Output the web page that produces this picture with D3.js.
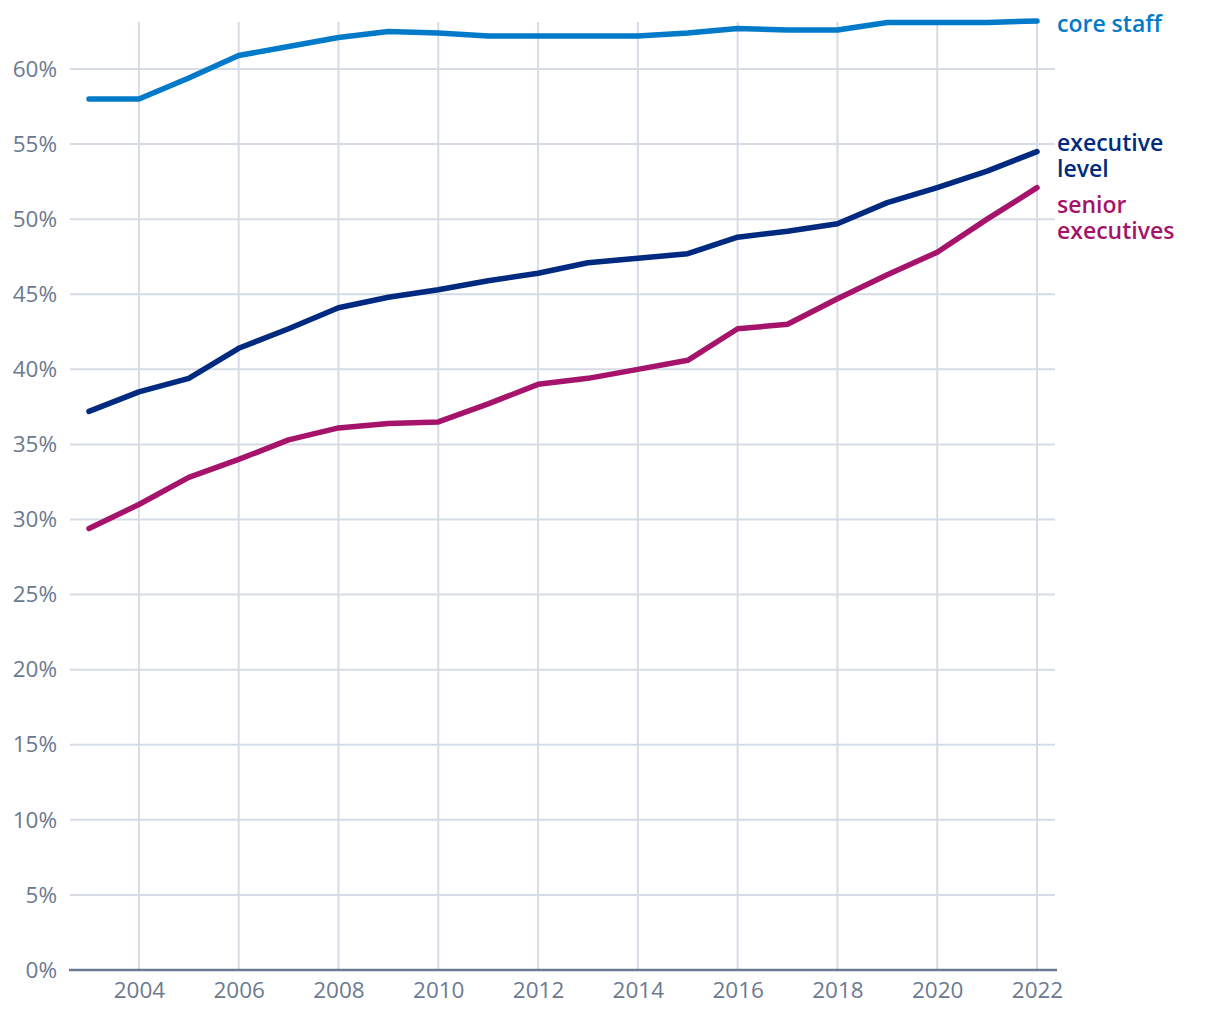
<!DOCTYPE html>
<html><head><meta charset="utf-8">
<script src="https://cdn.jsdelivr.net/npm/d3@7"></script>
<style>body{margin:0;background:#fff;} svg{display:block;}</style>
</head><body>
<svg id="c" width="1220" height="1020"></svg>
<script>
const years = d3.range(2003, 2023);
const coreStaff = [58.0,58.0,59.4,60.9,61.5,62.1,62.5,62.4,62.2,62.2,62.2,62.2,62.4,62.7,62.6,62.6,63.1,63.1,63.1,63.2];
const executiveLevel = [37.2,38.5,39.4,41.4,42.7,44.1,44.8,45.3,45.9,46.4,47.1,47.4,47.7,48.8,49.2,49.7,51.1,52.1,53.2,54.5];
const seniorExecutives = [29.4,31.0,32.8,34.0,35.3,36.1,36.4,36.5,37.7,39.0,39.4,40.0,40.6,42.7,43.0,44.7,46.3,47.8,50.0,52.1];
const yTicks = d3.range(0, 61, 5);
const xTicks = d3.range(2004, 2023, 2);
const seriesNames = [["core staff"],["executive","level"],["senior","executives"]];
const colors = ["#007ac9","#002a80","#a5146a"];

const svg = d3.select("#c");
const x = d3.scaleLinear().domain([2003, 2022]).range([89, 1037]);
const y = d3.scaleLinear().domain([0, 60]).range([970, 69]);
const font = "'Open Sans', sans-serif";

// horizontal grid
svg.append("g").selectAll("line").data(yTicks.filter(d=>d>0)).join("line")
  .attr("x1", 70).attr("x2", 1055).attr("y1", d=>y(d)).attr("y2", d=>y(d))
  .attr("stroke", "#d6dce5").attr("stroke-width", 2);
// vertical grid
svg.append("g").selectAll("line").data(xTicks).join("line")
  .attr("x1", d=>x(d)).attr("x2", d=>x(d)).attr("y1", 22).attr("y2", 970)
  .attr("stroke", "#d6dce5").attr("stroke-width", 2);
// baseline
svg.append("line").attr("x1", 69).attr("x2", 1057).attr("y1", y(0)).attr("y2", y(0))
  .attr("stroke", "#6b7a90").attr("stroke-width", 2.5);

// y labels
const yAxis = d3.axisLeft(y).tickValues(yTicks).tickFormat(d=>d+"%").tickSize(0).tickPadding(0);
const gy = svg.append("g").attr("transform","translate(57,0)").call(yAxis);
gy.select(".domain").remove();
gy.selectAll("text").attr("font-family", font).attr("font-size", 22.5).attr("fill", "#6b7a90");
// x labels
const xAxis = d3.axisBottom(x).tickValues(xTicks).tickFormat(d3.format("d")).tickSize(0).tickPadding(0);
const gx = svg.append("g").attr("transform","translate(0,982)").call(xAxis);
gx.select(".domain").remove();
gx.selectAll("text").attr("font-family", font).attr("font-size", 22.5).attr("fill", "#6b7a90");

const line = d3.line().x((d,i)=>x(years[i])).y(d=>y(d));
[coreStaff, executiveLevel, seniorExecutives].forEach((s,i)=>{
  svg.append("path").attr("d", line(s)).attr("fill","none").attr("stroke", colors[i])
    .attr("stroke-width", 5.5).attr("stroke-linecap","round").attr("stroke-linejoin","round");
});

// labels
const labelY = [[32],[151,177],[213,239]];
seriesNames.forEach((lines,i)=>{
  const t = svg.append("text").attr("font-family", font).attr("font-size", 23).attr("font-weight", 600)
    .attr("fill", colors[i]);
  lines.forEach((l,j)=>t.append("tspan").attr("x", 1057).attr("y", labelY[i][j]).text(l));
});
</script>
</body></html>
